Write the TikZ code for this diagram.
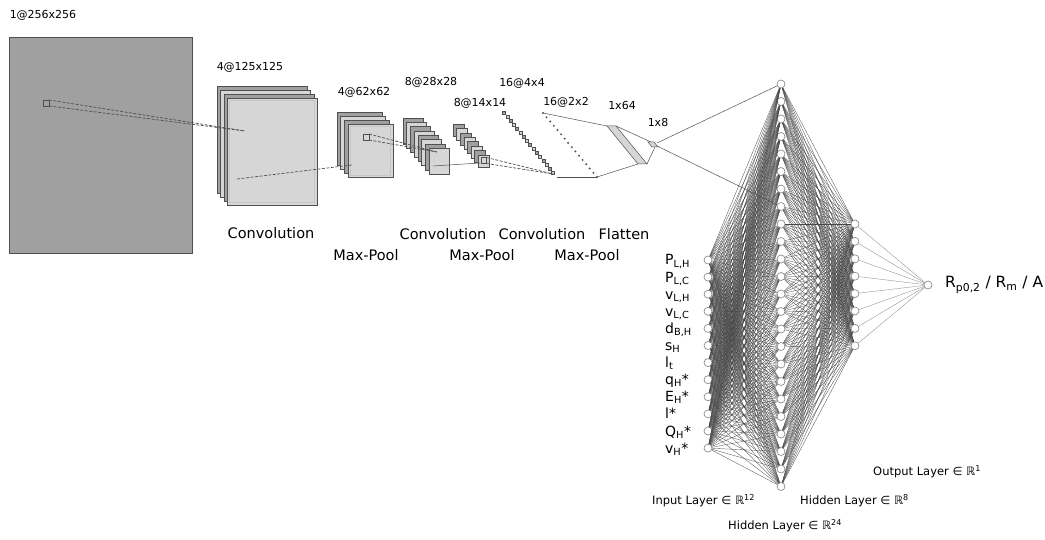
\documentclass[tikz,border=0pt]{standalone}
\usepackage{fontspec}
\setmainfont{DejaVu Sans}
\usepackage{xcolor}
\definecolor{mapdark}{RGB}{160,160,160}
\definecolor{maplight}{RGB}{214,214,214}
\definecolor{edgegray}{RGB}{80,80,80}
\definecolor{meshgray}{RGB}{70,70,70}

\begin{document}
\begin{tikzpicture}[x=1pt, y=-1pt,
  neuron/.style={circle, draw=gray, fill=white, inner sep=0pt, minimum size=8pt, line width=0.6pt},
  fmap/.style={draw=edgegray, line width=0.5pt},
  link/.style={edgegray, line width=0.7pt, dash pattern=on 3pt off 1.5pt},
  wire/.style={edgegray, line width=0.5pt},
  mesh/.style={meshgray, line width=0.3pt},
  biglabel/.style={font=\fontsize{14.5}{17}\selectfont},
  sizelabel/.style={font=\fontsize{11}{13}\selectfont},
  feat/.style={anchor=base west, inner sep=0pt, font=\fontsize{14}{16}\selectfont},
  layerlabel/.style={anchor=west, inner sep=0pt, font=\fontsize{11.5}{13}\selectfont}]
  \useasboundingbox (0,0) rectangle (1045,540);

  % Input image
  \filldraw[fmap, fill=mapdark] (9,37) rectangle (192,253);
  \draw[fmap] (43,100) rectangle (49,106);
  \coordinate (k0a) at (49,100);
  \coordinate (k0b) at (49,106);
  \node[sizelabel] (s0) at (43,15) {1@256x256};

  % Convolution 1
  \foreach \k/\c in {0/mapdark,1/maplight,2/mapdark,3/maplight}
    \filldraw[fmap, fill=\c] (217+3.4*\k,86+4*\k) rectangle ++(90,107);
  \draw[gray!45] (229.5,100.5) rectangle (314.5,202.5);
  \coordinate (c1in) at (245,131);
  \coordinate (c1out) at (237,179);
  \node[sizelabel] (s1) at (250,67) {4@125x125};

  % Max-Pool 1
  \foreach \k/\c in {0/mapdark,1/maplight,2/mapdark,3/maplight}
    \filldraw[fmap, fill=\c] (337+3.7*\k,112+4.1*\k) rectangle ++(45,53);
  \draw[gray!45] (350,126.5) rectangle (390.5,175);
  \draw[fmap] (363,134) rectangle (369,140);
  \coordinate (p1in) at (352,165);
  \coordinate (k1a) at (369,134);
  \coordinate (k1b) at (369,140);
  \node[sizelabel] (s2) at (364,92) {4@62x62};

  % Convolution 2
  \foreach \k [evaluate=\k as \w using {int(100*mod(\k,2))}] in {0,...,7}
    \filldraw[fmap, fill=maplight!\w!mapdark] (403+3.7*\k,118+4.3*\k) rectangle ++(20,26);
  \coordinate (c2in) at (437,152);
  \coordinate (c2out) at (433,166);
  \node[sizelabel] (s3) at (431,82) {8@28x28};

  % Max-Pool 2
  \foreach \k [evaluate=\k as \w using {int(100*mod(\k,2))}] in {0,...,7}
    \filldraw[fmap, fill=maplight!\w!mapdark] (453+3.6*\k,124+4.4*\k) rectangle ++(11,12);
  \draw[fmap] (481,157.5) rectangle (486.5,163.5);
  \coordinate (p2in) at (480,163);
  \coordinate (k2a) at (486.5,157.5);
  \coordinate (k2b) at (486.5,163.5);
  \node[sizelabel] (s4) at (480,103) {8@14x14};

  % Convolution 3
  \foreach \k [evaluate=\k as \w using {int(100*mod(\k,2))}] in {0,...,15}
    \filldraw[fmap, line width=0.4pt, fill=maplight!\w!mapdark] (502.5+3.27*\k,111.5+4*\k) rectangle ++(3,3);
  \coordinate (c3in) at (553,174);
  \coordinate (c3out) at (557,177);
  \node[sizelabel] (s5) at (522,83) {16@4x4};

  % Max-Pool 3
  \foreach \k in {0,...,15}
    \fill[edgegray] (543+3.6*\k,113+4.27*\k) circle (1.1);
  \coordinate (p3top) at (543,113);
  \coordinate (p3bot) at (597,177);
  \node[sizelabel] (s6) at (566,102) {16@2x2};

  % Flatten and dense
  \filldraw[fmap, fill=maplight] (607,126) -- (616,126) -- (647,164) -- (638,164) -- cycle;
  \filldraw[fmap, fill=maplight] (648,142) -- (654,142) -- (658,147) -- (652,147) -- cycle;
  \coordinate (f1a) at (607,126);
  \coordinate (f1b) at (616,126);
  \coordinate (f1c) at (647,164);
  \coordinate (f1d) at (638,164);
  \coordinate (d1a) at (651,142);
  \coordinate (d1b) at (655,147);
  \coordinate (d1c) at (657,143);
  \coordinate (d1d) at (657,146);
  \node[sizelabel] (s7) at (622,105) {1x64};
  \node[sizelabel] (s8) at (658,122) {1x8};

  % Stage names
  \node[biglabel] (n1) at (271,233) {Convolution};
  \node[biglabel] (n2) at (366,255) {Max-Pool};
  \node[biglabel] (n3) at (443,234) {Convolution};
  \node[biglabel] (n4) at (482,255) {Max-Pool};
  \node[biglabel] (n5) at (542,234) {Convolution};
  \node[biglabel] (n6) at (587,255) {Max-Pool};
  \node[biglabel] (n7) at (624,234) {Flatten};

  % Receptive field lines
  \draw[link] (k0a) -- (c1in);
  \draw[link] (k0b) -- (c1in);
  \draw[link] (c1out) -- (p1in);
  \draw[link] (k1a) -- (c2in);
  \draw[link] (k1b) -- (c2in);
  \draw[wire] (c2out) -- (p2in);
  \draw[link] (k2a) -- (c3in);
  \draw[link] (k2b) -- (c3in);
  \draw[wire] (c3out) -- (p3bot);
  \draw[wire] (p3top) -- (f1a);
  \draw[wire] (p3bot) -- (f1d);
  \draw[wire] (f1b) -- (d1a);
  \draw[wire] (f1c) -- (d1b);

  % Nodes
  \foreach \i in {1,...,12}
    \node[neuron] (i\i) at (708,260+17.1*\i-17.1) {};
  \foreach \i in {1,...,24}
    \node[neuron] (a\i) at (781,84+17.5*\i-17.5) {};
  \foreach \i in {1,...,8}
    \node[neuron] (b\i) at (855,224+17.4*\i-17.4) {};
  \node[neuron] (out) at (928,285) {};

  % Edges
  \foreach \i in {1,...,12}
    \foreach \j in {1,...,24}
      \draw[mesh] (i\i) -- (a\j);
  \foreach \i in {1,...,24}
    \foreach \j in {1,...,8}
      \draw[mesh] (a\i) -- (b\j);
  \foreach \i in {1,...,8}
    \draw[mesh, gray] (b\i) -- (out);
  \draw[wire] (d1c) -- (a1);
  \draw[wire] (d1d) -- (a8);

  % Inputs and output
  \foreach \n/\t in {1/{P\textsubscript{L,H}}, 2/{P\textsubscript{L,C}}, 3/{v\textsubscript{L,H}},
    4/{v\textsubscript{L,C}}, 5/{d\textsubscript{B,H}}, 6/{s\textsubscript{H}}, 7/{l\textsubscript{t}},
    8/{q\textsubscript{H}*}, 9/{E\textsubscript{H}*}, 10/{l*}, 11/{Q\textsubscript{H}*}, 12/{v\textsubscript{H}*}}
    \node[feat] (x\n) at (665,265+17.1*\n-17.1) {\t};
  \node[anchor=west, inner sep=0pt, font=\fontsize{15.5}{18}\selectfont] (y) at (945,285)
    {R\textsubscript{p0,2} / R\textsubscript{m} / A};

  % Layer names
  \node[layerlabel] (l1) at (652,501) {Input Layer ∈ ℝ\textsuperscript{12}};
  \node[layerlabel] (l2) at (800,501) {Hidden Layer ∈ ℝ\textsuperscript{8}};
  \node[layerlabel] (l3) at (728,526) {Hidden Layer ∈ ℝ\textsuperscript{24}};
  \node[layerlabel] (l4) at (873,472) {Output Layer ∈ ℝ\textsuperscript{1}};
\end{tikzpicture}
\end{document}
